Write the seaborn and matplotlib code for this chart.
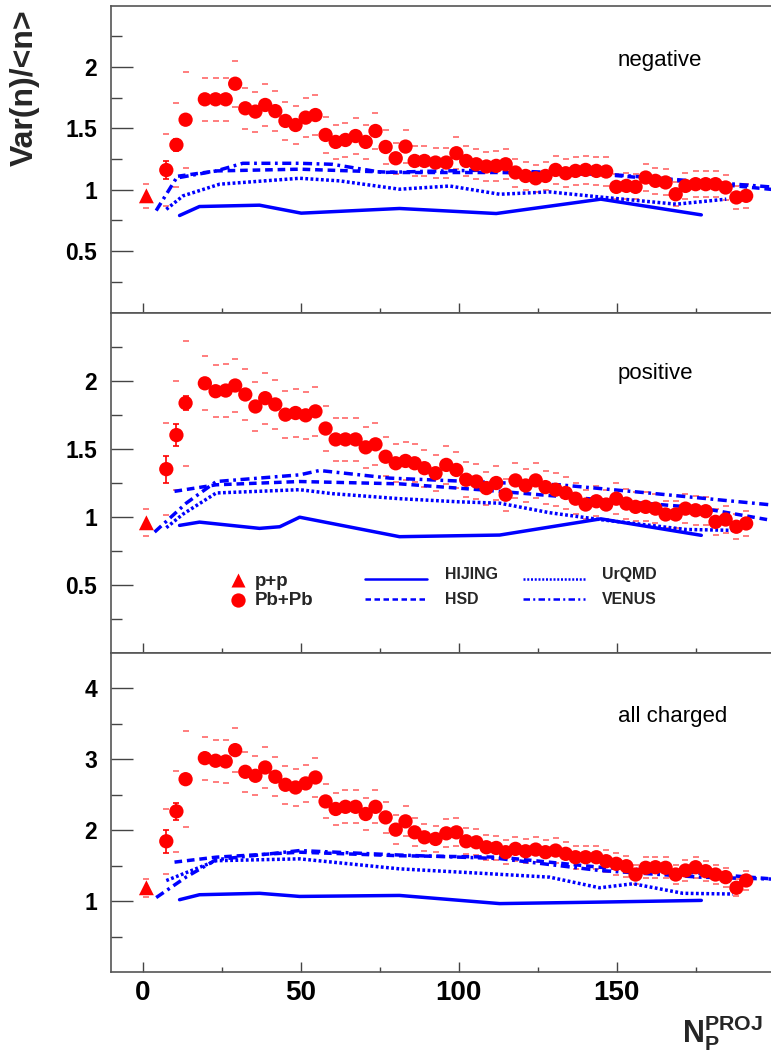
import numpy as np
import pandas as pd
import matplotlib
matplotlib.use("Agg")
import matplotlib.pyplot as plt
import seaborn as sns
from matplotlib.ticker import FixedLocator
from matplotlib.lines import Line2D

sns.set_theme(style="ticks")
plt.rcParams['font.family'] = ['Liberation Sans', 'DejaVu Sans']
plt.rcParams['font.weight'] = 'bold'
plt.rcParams['mathtext.fontset'] = 'custom'
plt.rcParams['mathtext.bf'] = 'Liberation Sans:bold'
plt.rcParams['mathtext.rm'] = 'Liberation Sans'
plt.rcParams['mathtext.it'] = 'Liberation Sans:italic'

# ---------------- data ----------------
Np = [7.5, 10.7, 13.6, 19.7, 23.1, 26.3, 29.3, 32.5, 35.7, 38.8, 42.0, 45.2, 48.4, 51.6,
      54.7, 57.9, 61.1, 64.2, 67.4, 70.6, 73.7, 76.9, 80.1, 83.2, 86.1, 89.2, 92.7, 96.1,
      99.3, 102.4, 105.6, 108.8, 111.9, 114.9, 118.0, 121.2, 124.4, 127.5, 130.7, 133.9,
      137.0, 140.2, 143.6, 146.7, 149.9, 153.1, 156.0, 159.2, 162.3, 165.5, 168.7, 171.8,
      175.0, 178.2, 181.3, 184.5, 187.9, 191.0]

pb_neg = [1.16, 1.365, 1.57, 1.736, 1.736, 1.736, 1.863, 1.663, 1.636, 1.69,
          1.64, 1.56, 1.527, 1.587, 1.608, 1.446, 1.389, 1.405, 1.437, 1.389,
          1.478, 1.348, 1.256, 1.351, 1.234, 1.234, 1.221, 1.221, 1.297, 1.234,
          1.207, 1.189, 1.194, 1.207, 1.14, 1.112, 1.093, 1.112, 1.161, 1.134,
          1.153, 1.161, 1.153, 1.148, 1.023, 1.031, 1.023, 1.099, 1.072, 1.059,
          0.963, 1.031, 1.045, 1.045, 1.045, 1.018, 0.937, 0.95]
pb_pos = [1.35, 1.60, 1.835, 1.98, 1.922, 1.927, 1.964, 1.898, 1.81, 1.871,
          1.825, 1.75, 1.762, 1.745, 1.774, 1.648, 1.568, 1.568, 1.568, 1.51,
          1.532, 1.441, 1.393, 1.41, 1.393, 1.357, 1.32, 1.381, 1.344, 1.272,
          1.259, 1.211, 1.248, 1.162, 1.267, 1.23, 1.267, 1.218, 1.199, 1.175,
          1.133, 1.09, 1.114, 1.09, 1.133, 1.097, 1.073, 1.073, 1.06, 1.017,
          1.017, 1.06, 1.048, 1.041, 0.963, 0.98, 0.927, 0.951]
pb_all = [1.844, 2.266, 2.72, 3.017, 2.98, 2.97, 3.13, 2.824, 2.768, 2.885,
          2.754, 2.641, 2.603, 2.66, 2.744, 2.406, 2.30, 2.33, 2.33, 2.229,
          2.33, 2.181, 2.008, 2.125, 1.97, 1.90, 1.877, 1.956, 1.97, 1.844,
          1.83, 1.76, 1.75, 1.69, 1.737, 1.703, 1.727, 1.69, 1.713, 1.667,
          1.619, 1.619, 1.619, 1.563, 1.526, 1.492, 1.375, 1.47, 1.478, 1.47,
          1.375, 1.432, 1.478, 1.422, 1.375, 1.338, 1.188, 1.291]

# relative systematic uncertainty per centrality bin
sys_frac = [0.25, 0.25, 0.25] + [0.10] * 55
# statistical errors (visible only for most peripheral bins)
stat_neg = [0.07, 0.05, 0.04] + [0.02] * 55
stat_pos = [0.10, 0.08, 0.05] + [0.02] * 55
stat_all = [0.16, 0.12, 0.06] + [0.03] * 55

pp_N = [1.2]
pp_neg, pp_pos, pp_all = [0.95], [0.956], [1.188]
pp_sys_neg, pp_sys_pos, pp_sys_all = [0.10], [0.10], [0.13]

# models: negative
hij_neg_N = [11.7, 18, 37, 50.2, 81.3, 111.9, 145, 176.8]
hij_neg = [0.79, 0.863, 0.874, 0.809, 0.847, 0.806, 0.923, 0.795]
hsd_neg_N = [11.2, 23.3, 49.7, 81.3, 113, 144.6, 176.3, 200]
hsd_neg = [1.11, 1.153, 1.167, 1.14, 1.14, 1.126, 1.059, 1.0]
urq_neg_N = [7.5, 12.8, 24.4, 49.7, 62.3, 81.3, 97.2, 113, 128.8, 144.6, 168.9, 184.7]
urq_neg = [0.84, 0.95, 1.045, 1.093, 1.072, 1.004, 1.03, 0.963, 0.982, 0.941, 0.882, 0.923]
ven_neg_N = [4.3, 10.7, 23.3, 31.7, 49.7, 60, 76, 90, 110, 130, 150, 175, 200]
ven_neg = [0.83, 1.095, 1.153, 1.215, 1.215, 1.207, 1.14, 1.15, 1.16, 1.14, 1.12, 1.07, 1.02]

# models: positive
hij_pos_N = [11.7, 18, 37, 43.4, 49.7, 81.3, 113, 145, 176.8]
hij_pos = [0.937, 0.961, 0.915, 0.927, 0.997, 0.854, 0.866, 0.985, 0.864]
hsd_pos_N = [10.1, 23.3, 49.7, 81.3, 106.6, 131.9, 176.3, 200]
hsd_pos = [1.187, 1.235, 1.259, 1.242, 1.199, 1.15, 1.066, 0.97]
urq_pos_N = [7.5, 12.8, 23.3, 49.7, 60, 81.3, 100, 113, 128.8, 144.6, 172, 188]
urq_pos = [0.92, 1.02, 1.175, 1.199, 1.17, 1.133, 1.11, 1.10, 1.03, 0.98, 0.907, 0.9]
ven_pos_N = [3.8, 13.8, 23.3, 49.7, 56, 78.2, 113, 131.9, 160, 200]
ven_pos = [0.888, 1.10, 1.259, 1.308, 1.34, 1.284, 1.25, 1.235, 1.175, 1.085]

# models: all charged
hij_all_N = [11.7, 18, 37, 49.7, 81.3, 113, 144.6, 176.8]
hij_all = [1.02, 1.09, 1.11, 1.066, 1.08, 0.965, 0.986, 1.01]
hsd_all_N = [10.1, 23.3, 49.7, 81.3, 113, 144.6, 176.3, 200]
hsd_all = [1.55, 1.62, 1.69, 1.64, 1.62, 1.478, 1.394, 1.31]
urq_all_N = [7.5, 23.3, 49.7, 81.3, 106.6, 128.8, 144.6, 155.2, 171, 186.8]
urq_all = [1.29, 1.57, 1.596, 1.455, 1.394, 1.338, 1.188, 1.245, 1.11, 1.10]
ven_all_N = [4.3, 13.8, 23.3, 49.7, 81.3, 113, 144.6, 176.3, 200]
ven_all = [1.05, 1.34, 1.585, 1.713, 1.65, 1.60, 1.432, 1.338, 1.31]

panel_names = ["negative", "positive", "all charged"]
x_ticks = [0, 50, 100, 150]
x_minor = [25, 75, 125, 175]

# ---------------- styles ----------------
RED = "#ff0000"
BLUE = "#0000ff"
SYS_COL = (1.0, 0.45, 0.45)
LS = {
    "HIJING": "-",
    "HSD": (0, (2.2, 1.4)),
    "UrQMD": (0, (0.8, 0.7)),
    "VENUS": (0, (2.6, 1.3, 0.8, 1.3)),
}

W, H = 771, 1055
fig = plt.figure(figsize=(W / 100, H / 100), dpi=100)
fig.patch.set_facecolor("white")

def axes_rect(top_px, bot_px):
    return [111 / W, 1 - bot_px / H, 663.6 / W, (bot_px - top_px) / H]

rects = [axes_rect(5.5, 312.5), axes_rect(312.5, 653), axes_rect(653, 972)]
ylims = [(0, 2.5), (0, 2.5), (0, 4.5)]
ymaj = [[0.5, 1, 1.5, 2], [0.5, 1, 1.5, 2], [1, 2, 3, 4]]
ymin = [[0.25, 0.75, 1.25, 1.75, 2.25], [0.25, 0.75, 1.25, 1.75, 2.25],
        [0.5, 1.5, 2.5, 3.5]]
ylabels_txt = [["0.5", "1", "1.5", "2"], ["0.5", "1", "1.5", "2"], ["1", "2", "3", "4"]]

datasets = [
    (pb_neg, stat_neg, pp_neg, pp_sys_neg,
     [(hij_neg_N, hij_neg, "HIJING"), (hsd_neg_N, hsd_neg, "HSD"),
      (urq_neg_N, urq_neg, "UrQMD"), (ven_neg_N, ven_neg, "VENUS")]),
    (pb_pos, stat_pos, pp_pos, pp_sys_pos,
     [(hij_pos_N, hij_pos, "HIJING"), (hsd_pos_N, hsd_pos, "HSD"),
      (urq_pos_N, urq_pos, "UrQMD"), (ven_pos_N, ven_pos, "VENUS")]),
    (pb_all, stat_all, pp_all, pp_sys_all,
     [(hij_all_N, hij_all, "HIJING"), (hsd_all_N, hsd_all, "HSD"),
      (urq_all_N, urq_all, "UrQMD"), (ven_all_N, ven_all, "VENUS")]),
]

axes = []
for i, (rect, (pb, stat, pp, ppsys, models)) in enumerate(zip(rects, datasets)):
    ax = fig.add_axes(rect)
    axes.append(ax)
    ax.set_facecolor("white")

    # model curves
    for mN, mv, name in models:
        df = pd.DataFrame({"N": mN, "v": mv})
        sns.lineplot(data=df, x="N", y="v", ax=ax, color=BLUE, lw=2.5,
                     linestyle=LS[name], estimator=None, sort=False,
                     legend=False, zorder=3)

    pbv = np.array(pb)
    sysv = pbv * np.array(sys_frac)
    # systematic error marks (small horizontal dashes)
    sys_df = pd.DataFrame({"N": Np * 2, "v": np.r_[pbv + sysv, pbv - sysv]})
    sns.scatterplot(data=sys_df, x="N", y="v", ax=ax, marker="_", s=20,
                    color=SYS_COL, linewidth=1.3, legend=False, zorder=2)
    pps = np.array(pp) + np.array(ppsys)
    ppm = np.array(pp) - np.array(ppsys)
    sns.scatterplot(x=pp_N * 2, y=np.r_[pps, ppm], ax=ax, marker="_", s=20,
                    color=SYS_COL, linewidth=1.3, legend=False, zorder=2)

    # statistical errors
    ax.errorbar(Np, pbv, yerr=stat, fmt="none", ecolor=RED, elinewidth=1.2,
                capsize=2, capthick=1.2, zorder=4)
    # data points
    sns.scatterplot(x=Np, y=pbv, ax=ax, color=RED, s=106, marker="o",
                    edgecolor="none", legend=False, zorder=5)
    sns.scatterplot(x=pp_N, y=pp, ax=ax, color=RED, s=115, marker="^",
                    edgecolor="none", legend=False, zorder=5)

    ax.set_xlim(-10, 200)
    ax.set_ylim(*ylims[i])
    ax.set_xlabel("")
    ax.set_ylabel("")
    ax.xaxis.set_major_locator(FixedLocator(x_ticks))
    ax.xaxis.set_minor_locator(FixedLocator(x_minor))
    ax.yaxis.set_major_locator(FixedLocator(ymaj[i]))
    ax.yaxis.set_minor_locator(FixedLocator(ymin[i]))
    ax.set_yticklabels(ylabels_txt[i])
    ax.tick_params(axis="y", which="major", direction="in", length=16, width=1.0,
                   color="#444444", labelsize=16.5, pad=10, labelcolor="black")
    ax.tick_params(axis="y", which="minor", direction="in", length=8, width=1.0,
                   color="#444444")
    ax.tick_params(axis="x", which="major", direction="in", length=7, width=1.0,
                   color="#444444", labelsize=20, pad=6, labelcolor="black")
    ax.tick_params(axis="x", which="minor", direction="in", length=3.5, width=1.0,
                   color="#444444")
    if i < 2:
        ax.tick_params(axis="x", which="both", labelbottom=False)
    else:
        ax.set_xticklabels([str(t) for t in x_ticks])
    for s in ax.spines.values():
        s.set_color("#555555")
        s.set_linewidth(1.2)
    for lbl in ax.get_yticklabels() + ax.get_xticklabels():
        lbl.set_fontweight("bold")

    ax.text(0.764, 0.822 if i < 2 else 0.80, panel_names[i], transform=ax.transAxes,
            fontsize=16, fontweight="normal", ha="left", va="center", color="black")

# legend in middle panel (manual layout)
axm = axes[1]
tr = axm.transAxes
axm.add_line(Line2D([0.191], [0.214], transform=tr, marker="^", ms=10.5, color=RED,
                    mec="none", ls="none", clip_on=False))
axm.add_line(Line2D([0.191], [0.156], transform=tr, marker="o", ms=10.3, color=RED,
                    mec="none", ls="none", clip_on=False))
axm.text(0.217, 0.210, "p+p", transform=tr, fontsize=13.5, fontweight="bold",
         ha="left", va="center")
axm.text(0.217, 0.155, "Pb+Pb", transform=tr, fontsize=13.5, fontweight="bold",
         ha="left", va="center")
leg_lines = [("HIJING", 0.383, 0.2165, 0.503, 0.232),
             ("HSD", 0.383, 0.158, 0.503, 0.156),
             ("UrQMD", 0.621, 0.2165, 0.740, 0.232),
             ("VENUS", 0.621, 0.158, 0.740, 0.156)]
for name, x0, y0, xt, yt in leg_lines:
    axm.add_line(Line2D([x0, x0 + 0.093], [y0, y0], transform=tr, color=BLUE,
                        lw=1.8, linestyle=LS[name]))
    axm.text(xt, yt, name, transform=tr, fontsize=11.4, fontweight="bold",
             ha="left", va="center")

# axis titles
fig.text(25 / W, 1 - 88 / H, "Var(n)/<n>", rotation=90, ha="center", va="center",
         fontsize=23, fontweight="bold")
fig.text(682 / W, 1 - 1033 / H, r"$\mathbf{N}_{\mathbf{P}}^{\mathbf{PROJ}}$",
         ha="left", va="center", fontsize=22)

fig.savefig("out.png", dpi=100, facecolor="white")
